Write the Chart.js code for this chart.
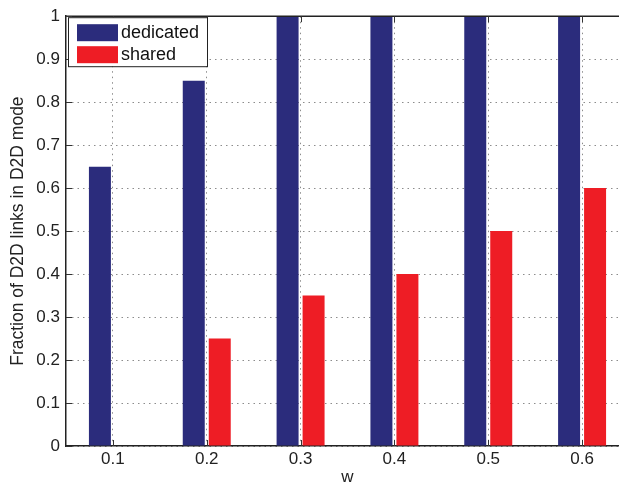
<!DOCTYPE html>
<html>
<head>
<meta charset="utf-8">
<script src="https://cdn.jsdelivr.net/npm/chart.js@4.4.1/dist/chart.umd.min.js"></script>
<style>
  html, body { margin: 0; padding: 0; background: #fff; overflow: hidden; }
  #wrap { width: 640px; height: 489px; }
</style>
</head>
<body>
<div id="wrap"><canvas id="fracChart" width="640" height="489"></canvas></div>
<script>
// --- DATA ---
const wValues = ['0.1', '0.2', '0.3', '0.4', '0.5', '0.6'];
const dedicated = [0.65, 0.85, 1, 1, 1, 1];
const shared = [0, 0.25, 0.35, 0.4, 0.5, 0.6];
const yTickLabels = ['0', '0.1', '0.2', '0.3', '0.4', '0.5', '0.6', '0.7', '0.8', '0.9', '1'];

const BLUE = '#2b2c7c';
const RED = '#ee1d25';
const FONT = 'Liberation Sans, Arial, Helvetica, sans-serif';

// --- AXIS BOX, INWARD TICKS, LEGEND ---
const matlabFrame = {
    id: 'matlabFrame',
    afterDraw(chart) {
        const ctx = chart.ctx;
        const a = chart.chartArea;
        const x = chart.scales.x, y = chart.scales.y;
        ctx.save();
        ctx.setLineDash([]);

        // top and right borders
        ctx.strokeStyle = '#222';
        ctx.lineWidth = 1.5;
        ctx.beginPath();
        ctx.moveTo(a.left, a.top);
        ctx.lineTo(a.right, a.top);
        ctx.lineTo(a.right, a.bottom);
        ctx.stroke();

        // inward tick marks
        ctx.lineWidth = 1;
        ctx.strokeStyle = '#333';
        ctx.beginPath();
        y.ticks.forEach((t, i) => {
            const py = Math.round(y.getPixelForTick(i)) + 0.5;
            ctx.moveTo(a.left, py); ctx.lineTo(a.left + 6, py);
            ctx.moveTo(a.right, py); ctx.lineTo(a.right - 6, py);
        });
        x.ticks.forEach((t, i) => {
            const px = Math.round(x.getPixelForTick(i)) + 0.5;
            ctx.moveTo(px, a.bottom); ctx.lineTo(px, a.bottom - 6);
            ctx.moveTo(px, a.top); ctx.lineTo(px, a.top + 6);
        });
        ctx.stroke();

        // legend box
        const lx = a.left + 2, ly = a.top + 1, lw = 139, lh = 49;
        ctx.fillStyle = '#fff';
        ctx.fillRect(lx, ly, lw, lh);
        ctx.strokeStyle = '#222';
        ctx.lineWidth = 1;
        ctx.strokeRect(lx + 0.5, ly + 0.5, lw, lh);
        ctx.font = '18px ' + FONT;
        ctx.textBaseline = 'middle';
        chart.data.datasets.forEach((ds, i) => {
            const rowY = ly + 7 + i * 22;
            ctx.fillStyle = ds.backgroundColor;
            ctx.fillRect(lx + 9, rowY, 41, 17);
            ctx.fillStyle = '#111';
            ctx.fillText(ds.label, lx + 53, rowY + 9);
        });
        ctx.restore();
    }
};

// dotted grid lines
const gridOpts = { drawTicks: false, color: '#8c8c8c', lineWidth: 1 };
const dots = [1.5, 4];

// --- CHART ---
const ctx = document.getElementById('fracChart').getContext('2d');
new Chart(ctx, {
    type: 'bar',
    data: {
        labels: wValues,
        datasets: [
            { label: 'dedicated', data: dedicated, backgroundColor: BLUE },
            { label: 'shared', data: shared, backgroundColor: RED }
        ]
    },
    options: {
        responsive: false,
        animation: false,
        devicePixelRatio: 1,
        categoryPercentage: 0.554,
        barPercentage: 0.846,
        layout: { padding: { left: 0, top: 12, right: 11, bottom: 0 } },
        plugins: {
            legend: { display: false },
            tooltip: { enabled: false }
        },
        scales: {
            x: {
                offset: true,
                grid: Object.assign({ offset: false }, gridOpts),
                border: { display: true, color: '#222', width: 1.5, dash: dots },
                ticks: { color: '#222', padding: 3, font: { family: FONT, size: 17 } },
                title: {
                    display: true,
                    text: 'w',
                    color: '#222',
                    padding: { top: 0, bottom: 1 },
                    font: { family: FONT, size: 17 }
                },
                afterFit: s => { s.height = 43; }
            },
            y: {
                min: 0,
                max: 1,
                grid: gridOpts,
                border: { display: true, color: '#222', width: 1.5, dash: dots },
                ticks: {
                    stepSize: 0.1,
                    color: '#222',
                    padding: 6,
                    font: { family: FONT, size: 17 },
                    callback: v => yTickLabels[Math.round(v * 10)]
                },
                title: {
                    display: true,
                    text: 'Fraction of D2D links in D2D mode',
                    color: '#222',
                    padding: { top: 8, bottom: 0 },
                    font: { family: FONT, size: 17.5 }
                },
                afterFit: s => { s.width = 66; }
            }
        }
    },
    plugins: [matlabFrame]
});
</script>
</body>
</html>
